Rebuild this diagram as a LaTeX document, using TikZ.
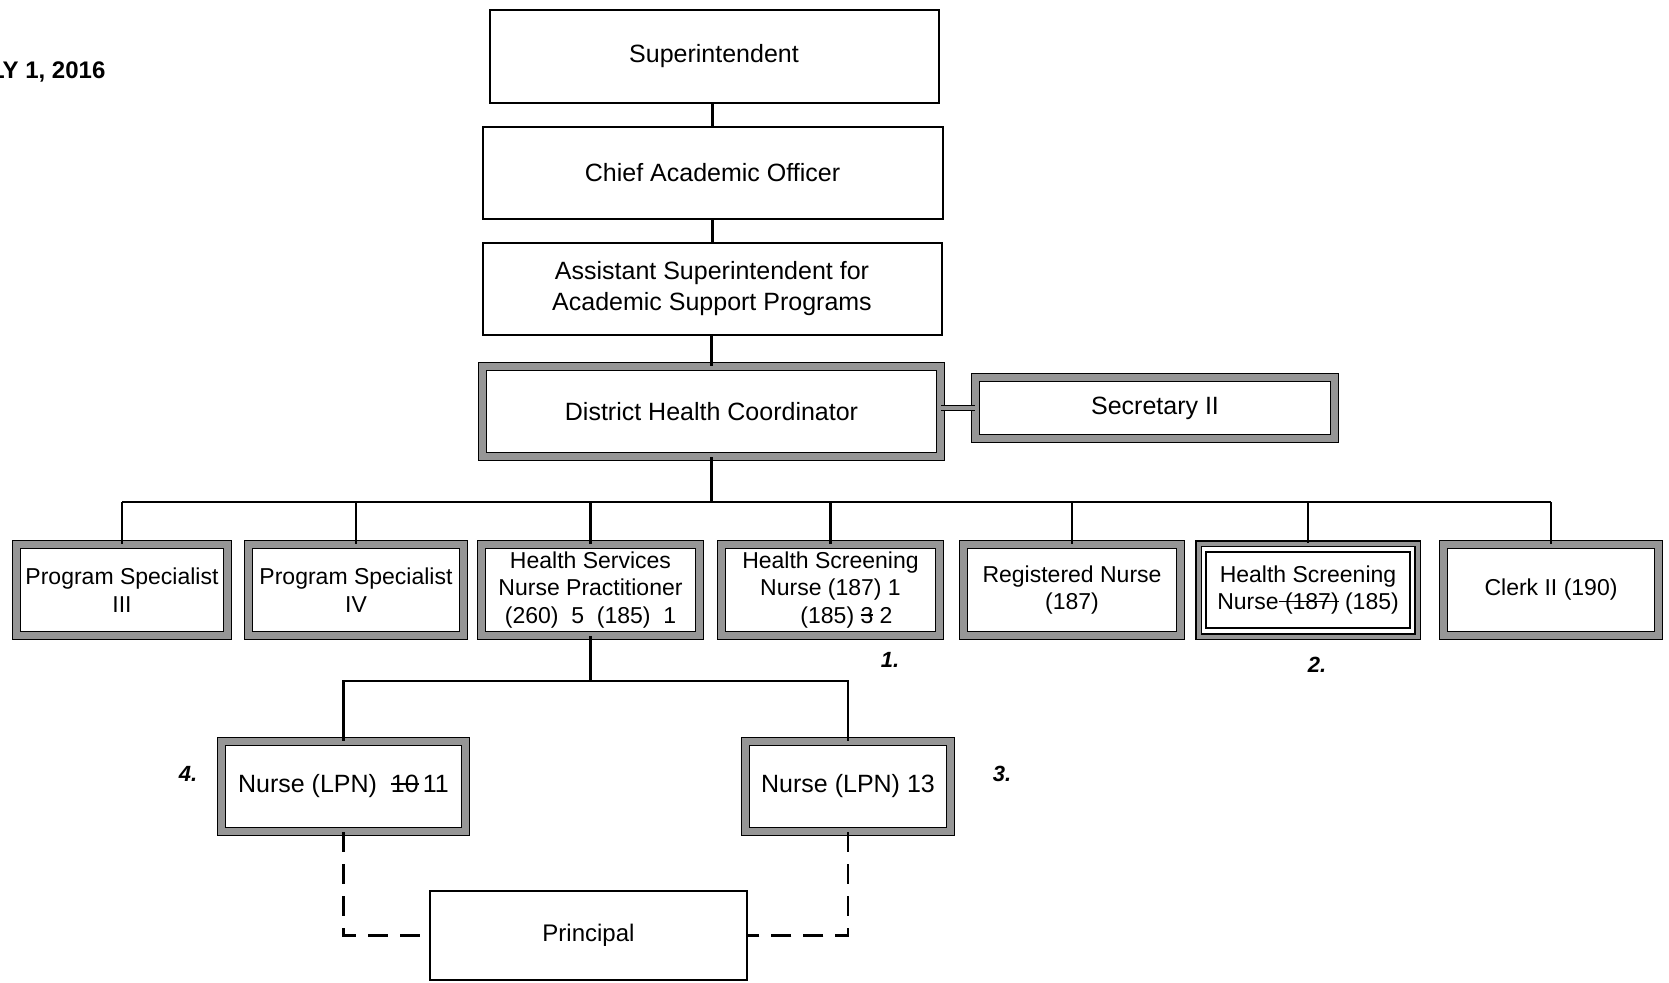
\documentclass[tikz,border=0pt]{standalone}
\usepackage{fontspec}
\setmainfont{Liberation Sans}
\newcommand{\strk}[1]{\leavevmode\setbox0\hbox{#1}\rlap{\rule[0.33em]{\wd0}{0.07em}}\box0\relax}
\definecolor{bordergray}{RGB}{150,150,150}
\begin{document}
\begin{tikzpicture}[x=1pt,y=-1pt,
  thinbox/.style={draw=black, line width=2pt, fill=white, inner sep=0pt, align=center,
    font=\fontsize{25}{31}\selectfont},
  heavybox/.style={draw=black, line width=1.1pt, double=bordergray, double distance=6.5pt,
    fill=white, inner sep=0pt, align=center, font=\fontsize{25}{31}\selectfont},
  rowbox/.style={heavybox, minimum height=91pt, font=\fontsize{23}{27.7}\selectfont},
  conn/.style={draw=black, line width=2.2pt},
  dashconn/.style={draw=black, line width=2.2pt, dash pattern=on 20pt off 12pt},
  lab/.style={inner sep=0pt, font=\bfseries\itshape\fontsize{22}{26}\selectfont}]
\useasboundingbox (0,0) rectangle (1669,982);

% header fragment
\node[anchor=west, inner sep=0pt, font=\bfseries\fontsize{24}{28}\selectfont] (date) at (-10,72) {LY 1, 2016};

% top chain
\node[thinbox, minimum width=449pt, minimum height=92pt] (sup) at (714,56.5) {Superintendent};
\node[thinbox, minimum width=460pt, minimum height=92pt] (cao) at (712.5,172.5) {Chief Academic Officer};
\node[thinbox, minimum width=459pt, minimum height=92pt] (asst) at (712,288.5) {Assistant Superintendent for\\Academic Support Programs};
\node[heavybox, minimum width=458pt, minimum height=90pt] (dhc) at (711.5,411.5) {District Health Coordinator};
\node[heavybox, minimum width=359pt, minimum height=61pt] (sec) at (1155,408) {Secretary II};

% row
\node[rowbox, minimum width=211pt] (ps3) at (122,590) {Program Specialist\\III};
\node[rowbox, minimum width=215pt] (ps4) at (356,590) {Program Specialist\\IV};
\node[rowbox, minimum width=218pt] (hsnp) at (590.5,590) {Health Services\\Nurse Practitioner\\(260)\ \ 5\ \ (185)\ \ 1};
\node[rowbox, minimum width=218pt] (hsn) at (830.5,590) {Health Screening\\Nurse (187) 1\\\hspace*{32pt}(185) \strk{3}\ 2};
\node[rowbox, minimum width=217pt] (rn) at (1072,590) {Registered Nurse\\(187)};
\node[rowbox, minimum width=219pt, minimum height=93pt, double distance=4pt] (hsn2) at (1308,590) {Health Screening\\Nurse\strk{ (187)} (185)};
\draw[line width=1.6pt] ([shift={(8,9)}]hsn2.north west) rectangle ([shift={(-8,-9)}]hsn2.south east);
\node[rowbox, minimum width=215pt] (clerk) at (1551,590) {Clerk II (190)};

% nurses and principal
\node[heavybox, minimum width=244pt, minimum height=90pt] (lpnl) at (343.5,786.5) {Nurse (LPN)\ \ \strk{10}\,11};
\node[heavybox, minimum width=205pt, minimum height=90pt] (lpnr) at (848,786.5) {Nurse (LPN) 13};
\node[thinbox, minimum width=317pt, minimum height=89pt, font=\fontsize{24}{28}\selectfont] (prin) at (588.5,935.5) {Principal};

% labels
\node[lab] (l1) at (890,660) {1.};
\node[lab] (l2) at (1317,665) {2.};
\node[lab] (l3) at (1002,774) {3.};
\node[lab] (l4) at (188,774) {4.};

% connectors
\draw[conn] (cao.north |- sup.south) -- (cao.north);
\draw[conn] (cao.south) -- (cao.south |- asst.north);
\draw[conn] (dhc.north |- asst.south) -- (dhc.north);
\draw[draw=black, line width=1.1pt, double=bordergray, double distance=4pt] (sec.west -| dhc.east) -- (sec.west);

\coordinate (bus) at (0,502);
\draw[conn] (dhc.south) -- (dhc.south |- bus);
\draw[conn] (ps3.north |- bus) -- (clerk.north |- bus);
\foreach \n in {ps3,ps4,hsnp,hsn,rn,hsn2,clerk}{
  \draw[conn] (\n.north |- bus) -- (\n.north);
}

\coordinate (bus2) at (0,681);
\draw[conn] (hsnp.south) -- (hsnp.south |- bus2);
\draw[conn] (lpnl.north) |- (lpnr.north |- bus2) -- (lpnr.north);

\draw[dashconn] (lpnl.south) |- (prin.west);
\draw[dashconn] (lpnr.south) |- (prin.east);
\end{tikzpicture}
\end{document}
